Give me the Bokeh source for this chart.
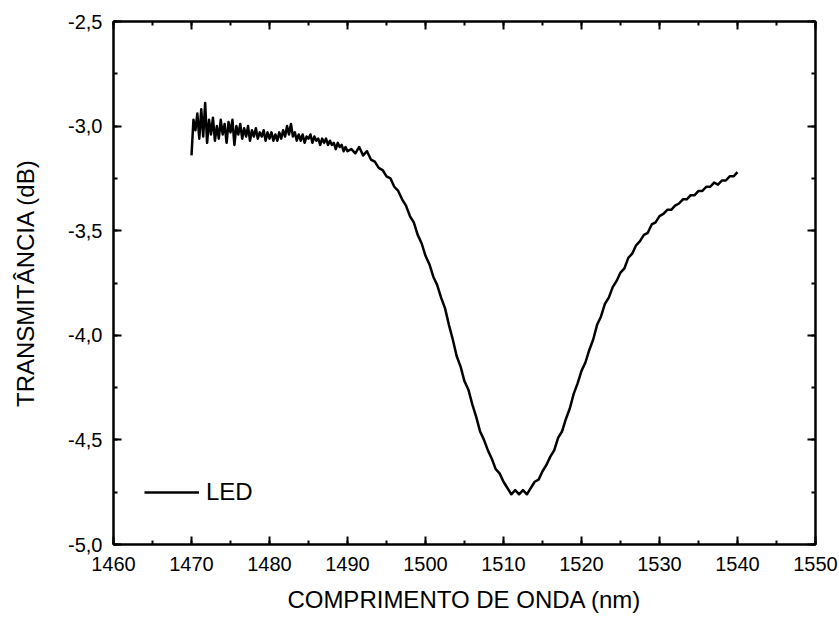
from bokeh.plotting import figure
from bokeh.models import (LinearAxis, SingleIntervalTicker, CustomJSTickFormatter,
                          Range1d, Legend, LegendItem)
from bokeh.embed import file_html
from bokeh.resources import INLINE
import numpy as np

# Wavelengths (nm): 0.25 nm steps in the noisy plateau, 0.5 nm afterwards
wl_a = np.arange(1470.0, 1490.0 + 0.001, 0.25)
tr_a = [
    -3.14, -2.97, -3.02, -2.94, -3.06, -2.92, -3.05, -2.89, -3.08, -2.97,
    -3.04, -2.96, -3.07, -3.00, -3.06, -2.97, -3.04, -2.99, -3.08, -2.98,
    -3.03, -2.97, -3.09, -3.00, -3.04, -2.99, -3.06, -3.01, -3.05, -3.00,
    -3.07, -3.02, -3.05, -3.01, -3.06, -3.03, -3.05, -3.02, -3.07, -3.03,
    -3.06, -3.03, -3.07, -3.04, -3.07, -3.03, -3.06, -3.02, -3.05, -3.00,
    -3.04, -2.99, -3.05, -3.03, -3.07, -3.04, -3.07, -3.04, -3.08, -3.05,
    -3.06, -3.04, -3.08, -3.05, -3.07, -3.06, -3.09, -3.06, -3.08, -3.06,
    -3.09, -3.07, -3.09, -3.08, -3.11, -3.08, -3.10, -3.09, -3.12, -3.10,
    -3.12,
]
wl_b = np.arange(1490.5, 1540.0 + 0.001, 0.5)
tr_b = [
    -3.11, -3.13, -3.10, -3.14, -3.12, -3.16, -3.17, -3.20, -3.21, -3.24,
    -3.25, -3.29, -3.31, -3.35, -3.38, -3.43, -3.46, -3.52, -3.56, -3.62,
    -3.66, -3.72, -3.76, -3.82, -3.87, -3.95, -4.02, -4.10, -4.15, -4.22,
    -4.26, -4.33, -4.39, -4.46, -4.50, -4.55, -4.59, -4.64, -4.66, -4.70,
    -4.73, -4.76, -4.74, -4.76, -4.74, -4.76, -4.73, -4.70, -4.69, -4.65,
    -4.62, -4.58, -4.55, -4.49, -4.46, -4.40, -4.35, -4.28, -4.23, -4.17,
    -4.13, -4.07, -4.02, -3.95, -3.91, -3.85, -3.82, -3.77, -3.74, -3.70,
    -3.68, -3.63, -3.61, -3.57, -3.55, -3.52, -3.51, -3.47, -3.46, -3.43,
    -3.42, -3.40, -3.40, -3.38, -3.37, -3.35, -3.35, -3.33, -3.33, -3.31,
    -3.31, -3.29, -3.29, -3.27, -3.28, -3.26, -3.26, -3.24, -3.24, -3.22,
]
wavelength = list(wl_a) + list(wl_b)
transmittance = tr_a + tr_b

x_label = "COMPRIMENTO DE ONDA (nm)"
y_label = "TRANSMITÂNCIA (dB)"
series_name = "LED"

FONT = "Liberation Sans"

p = figure(width=839, height=617, output_backend="svg", toolbar_location=None,
           x_range=Range1d(1460, 1550), y_range=Range1d(-5.0, -2.5),
           x_axis_location=None, y_axis_location=None,
           min_border_left=113, min_border_right=24,
           min_border_top=21, min_border_bottom=73)
p.grid.visible = False
p.outline_line_color = "black"
p.outline_line_width = 2
p.background_fill_color = "white"
p.border_fill_color = "white"

x_fmt = CustomJSTickFormatter(code="return tick.toFixed(0);")
y_fmt = CustomJSTickFormatter(code="return tick.toFixed(1).replace('.', ',');")
blank = CustomJSTickFormatter(code="return '';")

def style(ax, labels=True):
    ax.axis_line_width = 2
    ax.axis_line_color = "black"
    ax.major_tick_in = 8
    ax.major_tick_out = 0
    ax.minor_tick_in = 4
    ax.minor_tick_out = 0
    ax.major_tick_line_width = 2
    ax.minor_tick_line_width = 2
    ax.major_label_text_font = FONT
    ax.major_label_text_font_size = "20px"
    ax.major_label_text_color = "black"
    ax.axis_label_text_font = FONT
    ax.axis_label_text_font_size = "24px"
    ax.axis_label_text_font_style = "normal"
    ax.axis_label_text_color = "black"
    if not labels:
        ax.major_label_text_font_size = "0px"
        ax.major_label_standoff = 0

xb = LinearAxis(ticker=SingleIntervalTicker(interval=10, num_minor_ticks=2),
                formatter=x_fmt, axis_label=x_label)
style(xb)
xb.major_label_standoff = 12
xb.axis_label_standoff = 12
p.add_layout(xb, "below")

yl = LinearAxis(ticker=SingleIntervalTicker(interval=0.5, num_minor_ticks=2),
                formatter=y_fmt, axis_label=y_label)
style(yl)
yl.major_label_standoff = 11
yl.axis_label_standoff = 26
p.add_layout(yl, "left")

xt = LinearAxis(ticker=SingleIntervalTicker(interval=10, num_minor_ticks=2), formatter=blank)
style(xt, labels=False)
p.add_layout(xt, "above")
yr = LinearAxis(ticker=SingleIntervalTicker(interval=0.5, num_minor_ticks=2), formatter=blank)
style(yr, labels=False)
p.add_layout(yr, "right")

r = p.line(wavelength, transmittance, line_color="black", line_width=2.5,
           line_join="round")

legend = Legend(items=[LegendItem(label=series_name, renderers=[r])],
                location=(31, 38), padding=0, margin=0, spacing=0,
                glyph_width=55, glyph_height=24, label_standoff=7,
                label_text_font=FONT, label_text_font_size="24px",
                label_text_color="black",
                border_line_color=None, background_fill_alpha=0)
p.add_layout(legend, "center")

open("out.html", "w").write(file_html(p, INLINE))
